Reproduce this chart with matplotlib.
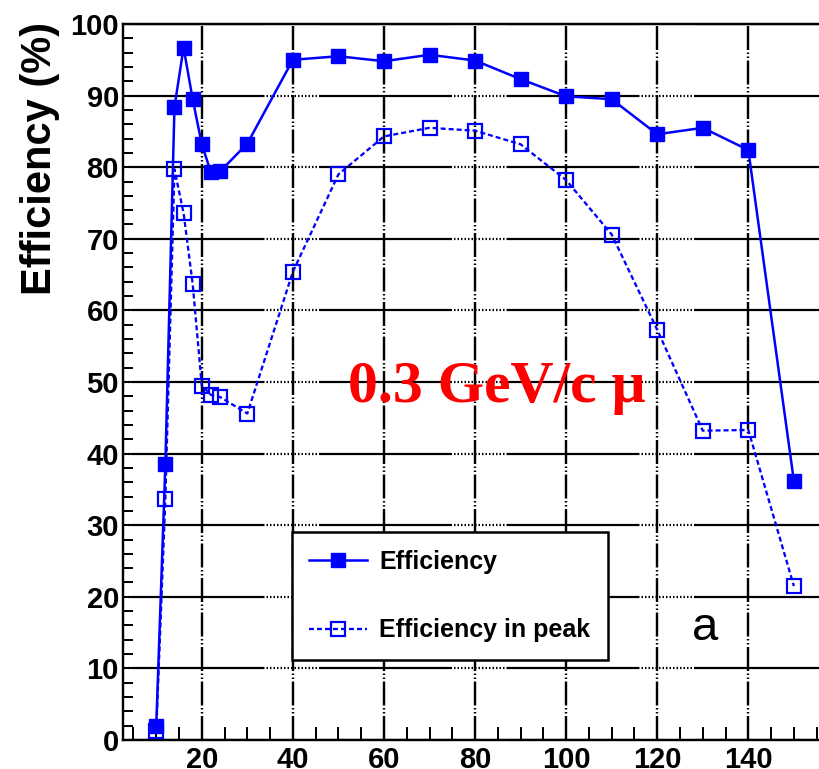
import matplotlib
matplotlib.use("Agg")
import matplotlib.pyplot as plt
from matplotlib.ticker import MultipleLocator

# Muon momentum scan, 0.3 GeV/c
energy = [10, 12, 14, 16, 18, 20, 22, 24, 30, 40, 50, 60, 70, 80, 90, 100, 110, 120, 130, 140, 150]
efficiency = [2.0, 38.5, 88.4, 96.7, 89.5, 83.2, 79.3, 79.4, 83.3, 95.0, 95.5, 94.8, 95.7, 94.9,
              92.3, 89.9, 89.5, 84.6, 85.5, 82.4, 36.2]
efficiency_peak = [1.2, 33.6, 79.7, 73.6, 63.7, 49.5, 48.2, 47.9, 45.6, 65.4, 79.0, 84.3, 85.5,
                   85.1, 83.2, 78.2, 70.6, 57.3, 43.2, 43.3, 21.5]
x_ticks = [20, 40, 60, 80, 100, 120, 140]
y_ticks = [0, 10, 20, 30, 40, 50, 60, 70, 80, 90, 100]
series_labels = ["Efficiency", "Efficiency in peak"]

plt.rcParams['lines.scale_dashes'] = False
plt.rcParams['font.family'] = ['Liberation Sans', 'DejaVu Sans']
plt.rcParams['font.weight'] = 'bold'

DPI = 100
W, H = 820, 769
fig = plt.figure(figsize=(W / DPI, H / DPI), dpi=DPI)


def px(v):
    """pixels -> points"""
    return v * 72.0 / DPI


x0_px, x1_px = 123, 839.4
y_top, y_bot = 24, 740
ax = fig.add_axes([x0_px / W, 1 - y_bot / H, (x1_px - x0_px) / W, (y_bot - y_top) / H])
ax.set_xlim(2.7, 160)
ax.set_ylim(0, 100)

# ROOT-like grid: long dashes broken by dotted stretches
hseq = [px(133), px(2.0)] + [px(1.5), px(2.0)] * 19
vseq = [px(24), px(2.5), px(1.5), px(2.5), px(1.5), px(2.5)]
ax.set_axisbelow(True)
ax.yaxis.grid(True, which='major', color='black', linewidth=px(2.2), linestyle=(px(179), hseq))
ax.xaxis.grid(True, which='major', color='black', linewidth=px(2.4), linestyle=(0, vseq))

blue = '#0000ff'
ax.plot(energy, efficiency, color=blue, linewidth=px(2.5), marker='s', markersize=px(14),
        markerfacecolor=blue, markeredgecolor=blue, label=series_labels[0], zorder=3)
ax.plot(energy, efficiency_peak, color=blue, linewidth=px(2.3), linestyle=(0, (px(5), px(3))),
        marker='s', markersize=px(14), markerfacecolor='none', markeredgecolor=blue,
        markeredgewidth=px(2.2), label=series_labels[1], zorder=3)

ax.set_xticks(x_ticks)
ax.set_yticks(y_ticks)
ax.xaxis.set_minor_locator(MultipleLocator(5))
ax.yaxis.set_minor_locator(MultipleLocator(2))
ax.tick_params(axis='both', which='both', direction='in', top=False, right=False,
               width=px(2), color='black')
ax.tick_params(axis='x', which='major', length=px(20), labelsize=21, pad=px(6))
ax.tick_params(axis='x', which='minor', length=px(13))
ax.tick_params(axis='y', which='major', length=px(18), labelsize=21, pad=px(4))
ax.tick_params(axis='y', which='minor', length=px(10))

for side in ('left', 'bottom', 'top'):
    ax.spines[side].set_linewidth(px(2.4))
    ax.spines[side].set_color('black')
ax.spines['right'].set_visible(False)

fig.text(40 / W, 1 - 158 / H, 'Efficiency (%)', rotation=90, fontsize=30,
         fontweight='bold', ha='center', va='center')

leg = ax.legend(loc='upper left', bbox_to_anchor=(292 / W, 1 - 532 / H),
                bbox_transform=fig.transFigure, borderaxespad=0, fontsize=18,
                frameon=True, fancybox=False, edgecolor='black', framealpha=1,
                handlelength=2.3, handletextpad=0.5,
                labelspacing=1.79, borderpad=0.7)
leg.get_frame().set_linewidth(px(2.5))
leg.set_zorder(5)

fig.text(497 / W, 1 - 388 / H, '0.3 GeV/c \u03bc', color='#ff0000', fontsize=43,
         fontweight='bold', family=['Liberation Serif', 'DejaVu Serif'],
         ha='center', va='center', zorder=6)
fig.text(705 / W, 1 - 628 / H, 'a', fontsize=34, fontweight='normal',
         ha='center', va='center')

fig.savefig('out.png', dpi=DPI)
